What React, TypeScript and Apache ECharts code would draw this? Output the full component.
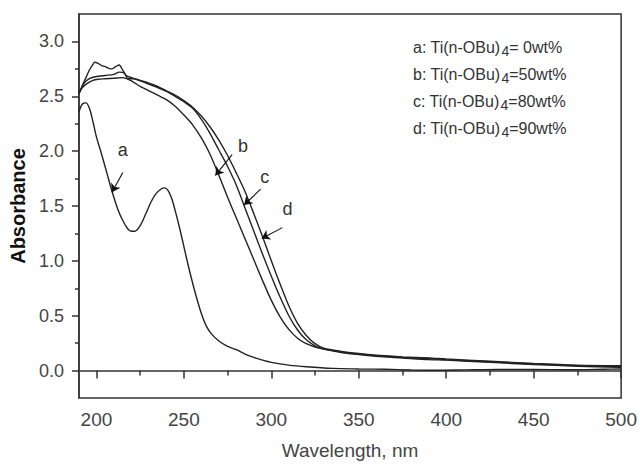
import React, { useEffect, useRef } from "react";
import * as echarts from "echarts";

// Curve a: Ti(n-OBu)4 = 0 wt%
const wlA = [190,192,194,196,198,200,203,206,209,212,215,218,220,222,225,228,231,234,237,239,241,243,245,248,251,254,257,260,263,266,270,275,280,285,290,295,300,310,320,335,350,365,380,395,410,430,450,470,490,500];
const absA = [2.36,2.43,2.44,2.39,2.27,2.13,1.97,1.80,1.63,1.48,1.37,1.29,1.27,1.27,1.32,1.42,1.53,1.61,1.655,1.665,1.64,1.57,1.46,1.27,1.06,0.86,0.68,0.52,0.40,0.33,0.27,0.22,0.19,0.15,0.12,0.095,0.075,0.05,0.035,0.02,0.015,0.012,0.005,0.003,0.006,0.01,0.01,0.008,0.012,0.015];

// Curve b: 50 wt%
const wlB = [190,192,195,198,201,205,210,215,220,225,230,235,240,245,250,255,260,265,270,275,280,285,290,295,300,305,310,315,320,325,330,340,350,360,375,390,400,425,450,475,500];
const absB = [2.53,2.58,2.62,2.645,2.655,2.66,2.665,2.67,2.64,2.59,2.55,2.51,2.47,2.41,2.33,2.24,2.12,1.97,1.78,1.58,1.39,1.20,1.01,0.82,0.64,0.49,0.375,0.295,0.245,0.215,0.195,0.165,0.145,0.13,0.115,0.10,0.095,0.075,0.055,0.04,0.03];

// Curve c: 80 wt%
const wlC = [190,193,196,200,205,210,213,216,218,221,225,230,235,240,245,250,255,260,265,270,275,280,285,290,295,300,305,310,315,320,325,330,340,350,360,375,390,400,425,450,475,500];
const absC = [2.52,2.62,2.66,2.68,2.69,2.70,2.72,2.71,2.66,2.66,2.64,2.61,2.58,2.545,2.50,2.45,2.39,2.29,2.16,2.01,1.86,1.69,1.48,1.27,1.06,0.86,0.67,0.50,0.37,0.28,0.225,0.195,0.17,0.15,0.135,0.12,0.11,0.10,0.08,0.06,0.045,0.035];

// Curve d: 90 wt%
const wlD = [190,192,194,196,198,199,201,203,205,207,209,211,213,215,217,220,225,230,235,240,245,250,255,260,265,270,275,280,285,290,295,300,305,310,315,320,325,330,340,350,360,375,390,400,425,450,475,500];
const absD = [2.52,2.60,2.67,2.74,2.79,2.81,2.80,2.78,2.77,2.755,2.75,2.77,2.785,2.74,2.69,2.67,2.645,2.62,2.59,2.55,2.51,2.46,2.40,2.32,2.22,2.10,1.96,1.80,1.63,1.43,1.22,1.00,0.79,0.59,0.43,0.32,0.245,0.205,0.175,0.155,0.14,0.125,0.115,0.105,0.085,0.065,0.05,0.045];

const xMajor = [200, 250, 300, 350, 400, 450, 500];
const xMinor = [225, 275, 325, 375, 425, 475];
const yMajor = [0, 0.5, 1.0, 1.5, 2.0, 2.5, 3.0];
const yMinor = [0.25, 0.75, 1.25, 1.75, 2.25, 2.75];

const legendLabels = ["a", "b", "c", "d"];
const legendWt = ["= 0wt%", "=50wt%", "=80wt%", "=90wt%"];

// annotation arrows [startX, startY, endX, endY] and letter positions, in data units
const arrowA = [215.1, 1.806, 208.9, 1.626];
const arrowB = [277.6, 1.968, 268.0, 1.779];
const arrowC = [293.9, 1.653, 284.4, 1.509];
const arrowD = [306.3, 1.303, 294.5, 1.204];
const letterPos = [[215.1, 2.01], [283.8, 2.05], [296.2, 1.76], [309.2, 1.47]];

const FONT = "Liberation Sans, Arial, sans-serif";

function zip(xs: number[], ys: number[]) {
  return xs.map((x, i) => [x, ys[i]]);
}

function makeSeries(name: string, xs: number[], ys: number[], arrow: number[], letter: number[], label: string) {
  return {
    name,
    type: "line",
    data: zip(xs, ys),
    showSymbol: false,
    symbol: "none",
    smooth: 0.3,
    silent: true,
    lineStyle: { color: "#222", width: 1.4 },
    markLine: {
      silent: true,
      symbol: ["none", "arrow"],
      symbolSize: 8,
      label: { show: false },
      lineStyle: { color: "#111", width: 1.1, type: "solid" },
      data: [[{ coord: [arrow[0], arrow[1]] }, { coord: [arrow[2], arrow[3]] }]],
    },
    markPoint: {
      silent: true,
      symbol: "circle",
      symbolSize: 0,
      data: [{ coord: letter, value: label }],
      label: {
        show: true,
        position: "inside",
        formatter: label,
        fontSize: 18,
        fontFamily: FONT,
        color: "#333",
      },
    },
  };
}

export default function App() {
  const ref = useRef<HTMLDivElement>(null);
  useEffect(() => {
    document.body.style.margin = "0";
    const chart = echarts.init(ref.current!, null, { renderer: "svg" });
    const axisLineStyle = { color: "#333", width: 1.5 };
    const legendGraphics = legendLabels.map((l, i) => ({
      type: "text",
      left: 413,
      top: 39 + i * 27,
      style: {
        text: `{b|${l}: Ti(n-OBu)}{s|4}{b|${legendWt[i]}}`,
        rich: {
          b: { fontSize: 16, fontFamily: FONT, fill: "#333", color: "#333", lineHeight: 19, verticalAlign: "top" },
          s: { fontSize: 14, fontFamily: FONT, fill: "#333", color: "#333", lineHeight: 19, padding: [5, 0, 0, 1], verticalAlign: "top" },
        },
      },
    }));
    chart.setOption({
      animation: false,
      grid: { left: 73, right: 17, top: 14, bottom: 61, show: true, borderColor: "#333", borderWidth: 1.5, containLabel: false },
      xAxis: [
        {
          type: "value",
          min: 190,
          max: 500,
          position: "bottom",
          name: "Wavelength, nm",
          nameLocation: "middle",
          nameGap: 43,
          nameTextStyle: { fontSize: 19, fontFamily: FONT, color: "#444" },
          axisLine: { show: true, lineStyle: axisLineStyle },
          axisTick: { show: true, customValues: xMajor, length: 8, inside: false, lineStyle: axisLineStyle },
          axisLabel: { show: true, customValues: xMajor, fontSize: 19, fontFamily: FONT, color: "#444", margin: 12 },
          splitLine: { show: false },
        },
        {
          type: "value",
          min: 190,
          max: 500,
          position: "bottom",
          axisLine: { show: false },
          axisTick: { show: true, customValues: xMinor, length: 5, lineStyle: axisLineStyle },
          axisLabel: { show: false },
          splitLine: { show: false },
        },
      ],
      yAxis: [
        {
          type: "value",
          min: -0.25,
          max: 3.25,
          position: "left",
          name: "Absorbance",
          nameLocation: "middle",
          nameGap: 44,
          nameTextStyle: { fontSize: 20, fontWeight: "bold", fontFamily: FONT, color: "#111" },
          axisLine: { show: true, lineStyle: axisLineStyle },
          axisTick: { show: true, customValues: yMajor, length: 7, lineStyle: axisLineStyle },
          axisLabel: {
            show: true,
            customValues: yMajor,
            fontSize: 18,
            fontFamily: FONT,
            color: "#444",
            margin: 15,
            formatter: (v: number) => v.toFixed(1),
          },
          splitLine: { show: false },
        },
        {
          type: "value",
          min: -0.25,
          max: 3.25,
          position: "left",
          axisLine: { show: false },
          axisTick: { show: true, customValues: yMinor, length: 4, lineStyle: axisLineStyle },
          axisLabel: { show: false },
          splitLine: { show: false },
        },
      ],
      series: [
        makeSeries("a", wlA, absA, arrowA, letterPos[0], "a"),
        makeSeries("b", wlB, absB, arrowB, letterPos[1], "b"),
        makeSeries("c", wlC, absC, arrowC, letterPos[2], "c"),
        makeSeries("d", wlD, absD, arrowD, letterPos[3], "d"),
      ],
      graphic: legendGraphics,
    });
    return () => chart.dispose();
  }, []);
  return <div ref={ref} style={{ width: 640, height: 465 }} />;
}
